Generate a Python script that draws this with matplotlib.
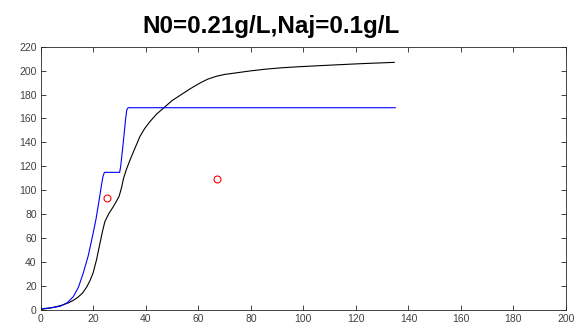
import matplotlib
matplotlib.use("Agg")
import matplotlib.pyplot as plt

# blue curve (stepwise model)
blue_x = [0, 3.5, 7.2, 10, 12.3, 14.3, 16.1, 18, 19.9, 21, 22.2, 23.2, 23.7,
          24.2, 30, 30.4, 31.3, 32.2, 32.7, 33.2, 135]
blue_y = [1, 1.8, 3, 6, 11, 19, 30.6, 45, 64, 76, 92, 106, 112,
          115, 115, 120, 138, 158, 167, 169, 169]

# black curve (smooth model)
black_x = [0, 4, 8, 10.5, 12.3, 14, 15.8, 17.4, 18.7, 19.9, 21.2, 22.5, 23.5,
           24.4, 26, 27.5, 28.8, 29.8, 30.7, 31.5, 32.5, 33.9, 35.8, 37.7,
           39.5, 41.5, 44, 46.6, 50, 54.2, 57, 60.6, 63.5, 66.9, 70, 73.3, 80,
           86, 92, 98.7, 105, 111.4, 118, 124.1, 130, 134.6]
black_y = [0.5, 1.8, 4, 6, 8, 10.5, 14, 19, 24.5, 31, 42, 55.7, 66,
           74, 81, 86, 91, 95, 102, 110, 117, 125, 135, 144.8,
           151.5, 157.3, 163.5, 168.5, 175, 181, 185, 189.6, 192.8, 195.3,
           196.8, 197.8, 199.8, 201.3, 202.4, 203.3, 204, 204.7, 205.4, 206,
           206.5, 206.9]

# measured points
obs_x = [25.3, 67.2]
obs_y = [93.3, 109.7]

xticks = list(range(0, 201, 20))
yticks = list(range(0, 221, 20))

plt.rcParams["font.family"] = ["Liberation Sans", "DejaVu Sans"]

fig = plt.figure(figsize=(5.84, 3.31), dpi=100)
ax = fig.add_axes([0.070, 0.0634, 0.899, 0.7956])

ax.plot(black_x, black_y, color="k", lw=0.8)
ax.plot(blue_x, blue_y, color="#0000ff", lw=0.8)
ax.plot(obs_x, obs_y, "o", mfc="none", mec="#ff0000", ms=5, mew=0.8)

ax.set_xlim(0, 200)
ax.set_ylim(0, 220)
ax.set_xticks(xticks)
ax.set_yticks(yticks)

axc = "#262626"
for s in ax.spines.values():
    s.set_color(axc)
    s.set_linewidth(0.6)
ax.tick_params(direction="in", top=True, right=True, length=3.5, width=0.6,
               colors=axc, labelsize=7.5, labelcolor="#404040", pad=3)

ax.set_title("N0=0.21g/L,Naj=0.1g/L", fontsize=17.5, fontweight="bold",
             color="black", x=0.439, pad=10)

fig.savefig("out.png", dpi=100)
